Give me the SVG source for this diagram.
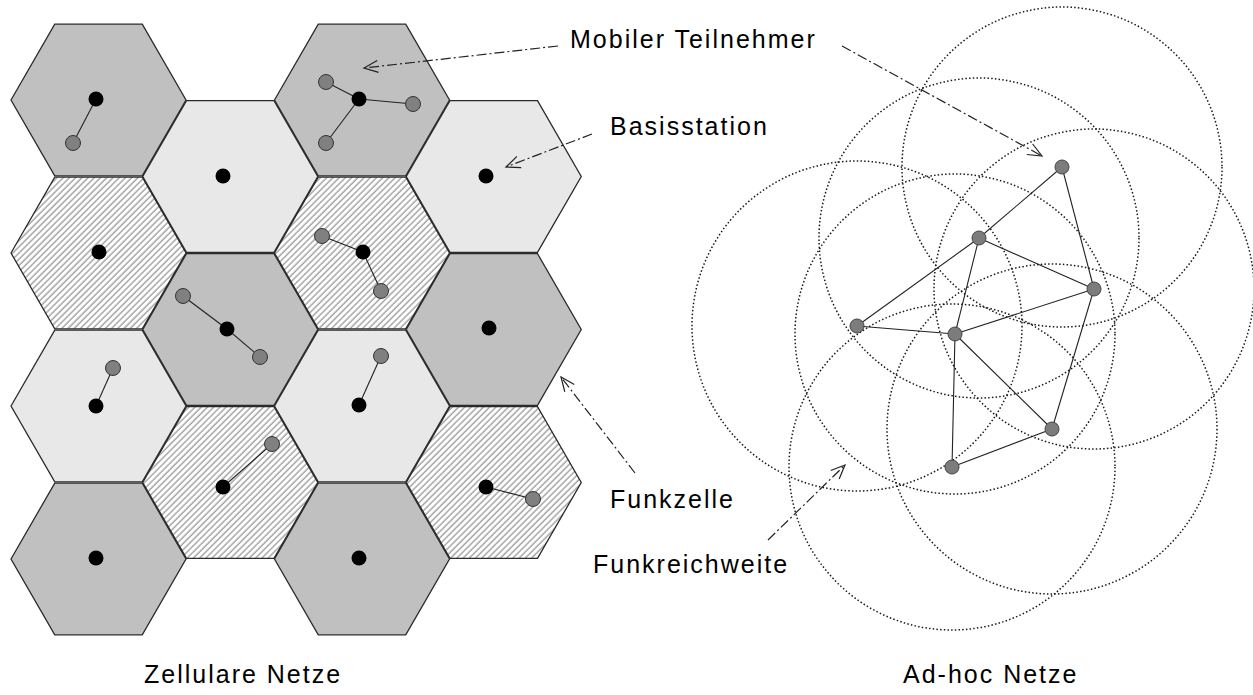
<svg xmlns="http://www.w3.org/2000/svg" xmlns:xlink="http://www.w3.org/1999/xlink" width="1253" height="695" viewBox="0 0 1253 695">
<style>
.hex{stroke:#2a2a2a;stroke-width:1.3}
.dark{fill:#c0c0c0}
.light{fill:#e8e8e8}
.hatch{fill:url(#hatchPat)}
.bs{fill:#000}
.ms{fill:#808080;stroke:#333;stroke-width:1}
.an{fill:#7c7c7c;stroke:#444;stroke-width:1}
.lk{stroke:#222;stroke-width:1.1;fill:none}
.range{fill:none;stroke:#1a1a1a;stroke-width:1.5;stroke-dasharray:1.5 2.2}
.call{fill:none;stroke:#222;stroke-width:1.2;stroke-dasharray:10 3 2 3;marker-end:url(#openArrow)}
.lbl{font-family:"Liberation Sans",Arial,sans-serif;font-size:25px;fill:#000;letter-spacing:2px}
</style>
<defs>
<pattern id="hatchPat" patternUnits="userSpaceOnUse" width="4.4" height="4.4" patternTransform="rotate(45)">
<rect width="4.4" height="4.4" fill="#fff"/>
<line x1="1" y1="0" x2="1" y2="4.4" stroke="#999" stroke-width="1.3"/>
</pattern>
<polygon id="hexShape" points="-87.5,0 -43.75,-75.8 43.75,-75.8 87.5,0 43.75,75.8 -43.75,75.8"/>
<marker id="openArrow" markerUnits="userSpaceOnUse" viewBox="-16 -8 18 16" markerWidth="18" markerHeight="16" refX="0" refY="0" orient="auto">
<path d="M-14,-6 L0,0 L-14,6" fill="none" stroke="#222" stroke-width="1.2"/>
</marker>
</defs>
<rect width="1253" height="695" fill="#fff"/>

<g id="cells">
<g id="cell-1-1"><use href="#hexShape" x="98.5" y="100" class="hex dark"/><line class="lk" x1="96" y1="99" x2="73" y2="143"/><circle class="bs" cx="96" cy="99" r="7.5"/><circle class="ms" cx="73" cy="143" r="7.5"/></g>
<g id="cell-1-2"><use href="#hexShape" x="98.5" y="253" class="hex hatch"/><circle class="bs" cx="99" cy="252" r="7.5"/></g>
<g id="cell-1-3"><use href="#hexShape" x="98.5" y="406" class="hex light"/><line class="lk" x1="96" y1="406" x2="113" y2="368"/><circle class="bs" cx="96" cy="406" r="7.5"/><circle class="ms" cx="113" cy="368" r="7.5"/></g>
<g id="cell-1-4"><use href="#hexShape" x="98.5" y="559" class="hex dark"/><circle class="bs" cx="96" cy="558" r="7.5"/></g>
<g id="cell-2-1"><use href="#hexShape" x="230.25" y="176.5" class="hex light"/><circle class="bs" cx="223" cy="176" r="7.5"/></g>
<g id="cell-2-2"><use href="#hexShape" x="230.25" y="329.5" class="hex dark"/><line class="lk" x1="183" y1="296" x2="227" y2="329"/><line class="lk" x1="227" y1="329" x2="260" y2="357"/><circle class="bs" cx="227" cy="329" r="7.5"/><circle class="ms" cx="183" cy="296" r="7.5"/><circle class="ms" cx="260" cy="357" r="7.5"/></g>
<g id="cell-2-3"><use href="#hexShape" x="230.25" y="482.5" class="hex hatch"/><line class="lk" x1="223" y1="487" x2="272" y2="444"/><circle class="bs" cx="223" cy="487" r="7.5"/><circle class="ms" cx="272" cy="444" r="7.5"/></g>
<g id="cell-3-1"><use href="#hexShape" x="362" y="100" class="hex dark"/><line class="lk" x1="359" y1="99" x2="326" y2="82"/><line class="lk" x1="359" y1="99" x2="413" y2="104"/><line class="lk" x1="359" y1="99" x2="326" y2="143"/><circle class="bs" cx="359" cy="99" r="7.5"/><circle class="ms" cx="326" cy="82" r="7.5"/><circle class="ms" cx="413" cy="104" r="7.5"/><circle class="ms" cx="326" cy="143" r="7.5"/></g>
<g id="cell-3-2"><use href="#hexShape" x="362" y="253" class="hex hatch"/><line class="lk" x1="363" y1="252" x2="322" y2="236"/><line class="lk" x1="363" y1="252" x2="381" y2="291"/><circle class="bs" cx="363" cy="252" r="7.5"/><circle class="ms" cx="322" cy="236" r="7.5"/><circle class="ms" cx="381" cy="291" r="7.5"/></g>
<g id="cell-3-3"><use href="#hexShape" x="362" y="406" class="hex light"/><line class="lk" x1="359" y1="405" x2="381" y2="356"/><circle class="bs" cx="359" cy="405" r="7.5"/><circle class="ms" cx="381" cy="356" r="7.5"/></g>
<g id="cell-3-4"><use href="#hexShape" x="362" y="559" class="hex dark"/><circle class="bs" cx="359" cy="558" r="7.5"/></g>
<g id="cell-4-1"><use href="#hexShape" x="493.75" y="176.5" class="hex light"/><circle class="bs" cx="486" cy="176" r="7.5"/></g>
<g id="cell-4-2"><use href="#hexShape" x="493.75" y="329.5" class="hex dark"/><circle class="bs" cx="489" cy="328" r="7.5"/></g>
<g id="cell-4-3"><use href="#hexShape" x="493.75" y="482.5" class="hex hatch"/><line class="lk" x1="486" y1="487" x2="533" y2="499"/><circle class="bs" cx="486" cy="487" r="7.5"/><circle class="ms" cx="533" cy="499" r="7.5"/></g>
</g>

<g id="ranges">
<circle class="range" cx="1062" cy="167" r="160"/>
<circle class="range" cx="979" cy="238" r="160"/>
<circle class="range" cx="1094" cy="289" r="160"/>
<circle class="range" cx="857" cy="326" r="165"/>
<circle class="range" cx="955" cy="334" r="160"/>
<circle class="range" cx="1052" cy="429" r="165"/>
<circle class="range" cx="952" cy="467" r="163"/>
</g>

<g id="connectors">
<g id="adhoc-links" class="lk">
<line x1="1062" y1="167" x2="979" y2="238"/>
<line x1="1062" y1="167" x2="1094" y2="289"/>
<line x1="979" y1="238" x2="1094" y2="289"/>
<line x1="979" y1="238" x2="857" y2="326"/>
<line x1="979" y1="238" x2="955" y2="334"/>
<line x1="857" y1="326" x2="955" y2="334"/>
<line x1="955" y1="334" x2="1094" y2="289"/>
<line x1="955" y1="334" x2="1052" y2="429"/>
<line x1="955" y1="334" x2="952" y2="467"/>
<line x1="952" y1="467" x2="1052" y2="429"/>
<line x1="1094" y1="289" x2="1052" y2="429"/>
</g>
<path class="call" d="M558,46 L364,68"/>
<path class="call" d="M842,46 L1042,156"/>
<path class="call" d="M592,134 L506,167"/>
<path class="call" d="M635,473 L561,377"/>
<path class="call" d="M768,540 L845,465"/>
</g>

<g id="adhoc-nodes">
<circle id="n1" class="an" cx="1062" cy="167" r="7"/>
<circle id="n2" class="an" cx="979" cy="238" r="7"/>
<circle id="n3" class="an" cx="1094" cy="289" r="7"/>
<circle id="n4" class="an" cx="857" cy="326" r="7"/>
<circle id="n5" class="an" cx="955" cy="334" r="7"/>
<circle id="n6" class="an" cx="1052" cy="429" r="7"/>
<circle id="n7" class="an" cx="952" cy="467" r="7"/>
</g>

<g id="labels">
<text id="lbl-mobil" class="lbl" x="570" y="48">Mobiler Teilnehmer</text>
<text id="lbl-basis" class="lbl" x="610" y="135">Basisstation</text>
<text id="lbl-funkzelle" class="lbl" x="610" y="508">Funkzelle</text>
<text id="lbl-reichweite" class="lbl" x="593" y="573">Funkreichweite</text>
<text id="lbl-zell" class="lbl" x="144" y="683">Zellulare Netze</text>
<text id="lbl-adhoc" class="lbl" x="903" y="683">Ad-hoc Netze</text>
</g>
</svg>
